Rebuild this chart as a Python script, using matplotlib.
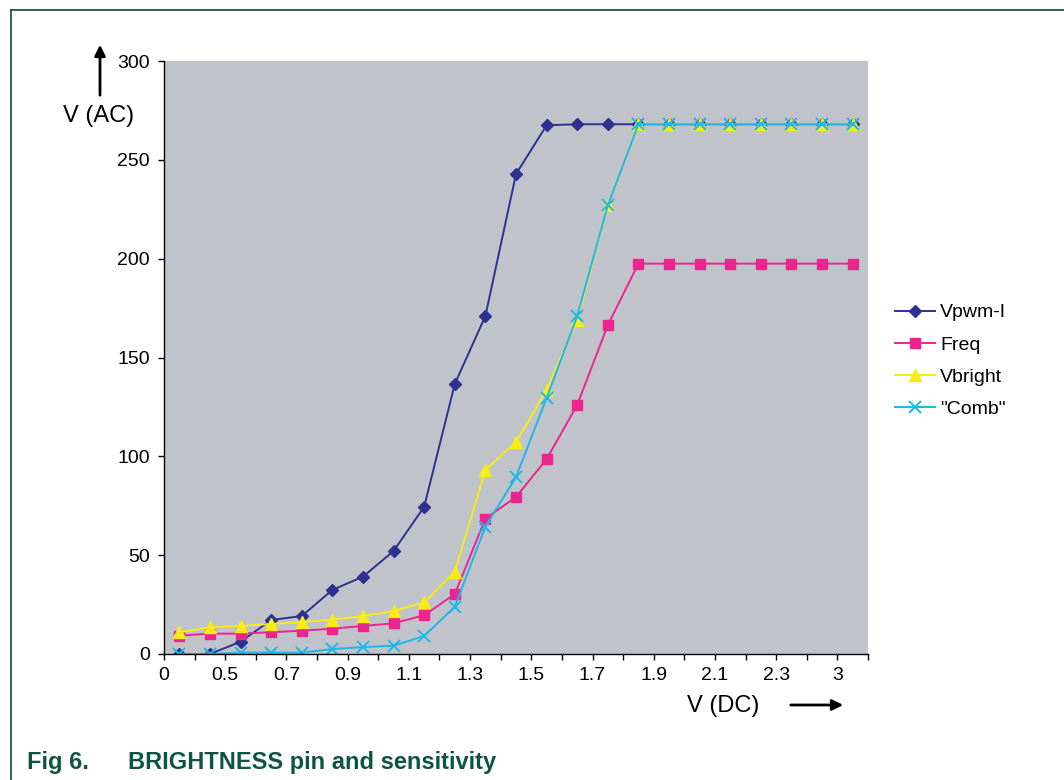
import matplotlib.pyplot as plt
from matplotlib.lines import Line2D

plt.rcParams['font.family'] = ['Liberation Sans', 'DejaVu Sans']

# x category labels (every second category boundary is labelled)
tick_labels = ['0', '0.5', '0.7', '0.9', '1.1', '1.3', '1.5', '1.7', '1.9', '2.1', '2.3', '3']
n_points = 23

vpwm = [0, 0, 6.2, 17.2, 19.2, 32.4, 39.1, 52.1, 74.5, 136.6, 171, 242.8, 267.5,
        268, 268, 268, 268, 268, 268, 268, 268, 268, 268]
freq = [9.3, 10.3, 10.3, 11, 11.8, 12.8, 14.2, 15.5, 19.6, 30.3, 68.5, 79.4, 98.6,
        126, 166.4, 197.5, 197.5, 197.5, 197.5, 197.5, 197.5, 197.5, 197.5]
vbright = [11, 13.5, 14.2, 15.2, 16.2, 17.3, 19.2, 21.7, 26.1, 41.6, 93, 107.2, 133.5,
           169, 227, 268, 268, 268, 268, 268, 268, 268, 268]
comb = [0, 0, 0.7, 0.7, 0.7, 2.5, 3.5, 4.2, 9.1, 23.9, 64.5, 89.5, 129.5,
        171, 227, 268, 268, 268, 268, 268, 268, 268, 268]

x = [i + 0.5 for i in range(n_points)]

fig = plt.figure(figsize=(10.64, 7.80), dpi=100)
ax = fig.add_axes([164 / 1064, 1 - 654 / 780, 704 / 1064, 593 / 780])
ax.set_facecolor('#c0c3ca')

ax.plot(x, vpwm, color='#2e3192', marker='D', markersize=6.5, lw=1.4, label='Vpwm-I')
ax.plot(x, freq, color='#ec258e', marker='s', markersize=6.5, lw=1.4, label='Freq')
ax.plot(x, vbright, color='#f7ec16', marker='^', markersize=8, lw=1.4, label='Vbright')
ax.plot(x, comb, color='#1cb8ea', marker='x', markersize=8, mew=1.4, lw=1.4, label='"Comb"')

ax.set_xlim(0, n_points)
ax.set_ylim(0, 300)
ax.set_xticks(range(0, n_points + 1))
ax.set_xticklabels([tick_labels[i // 2] if i % 2 == 0 else '' for i in range(n_points + 1)])
ax.set_yticks(range(0, 301, 50))
ax.tick_params(axis='both', labelsize=14, length=4, width=1, color='black')
ax.tick_params(axis='x', pad=5)
ax.tick_params(axis='y', pad=6)
for s in ['top', 'right']:
    ax.spines[s].set_visible(False)
for s in ['left', 'bottom']:
    ax.spines[s].set_linewidth(1)

ax.legend(loc='upper left', bbox_to_anchor=(1.013, 0.62), frameon=False, fontsize=14,
          handlelength=2.1, labelspacing=0.75, handletextpad=0.25)

# axis labels with arrows
fig.text(99 / 1064, 1 - 116 / 780, 'V (AC)', fontsize=17, ha='center', va='center')
fig.add_artist(plt.Annotation('', xy=(100 / 1064, 1 - 42 / 780), xytext=(100 / 1064, 1 - 98 / 780),
                              xycoords='figure fraction',
                              arrowprops=dict(arrowstyle='-|>', color='black', lw=2, mutation_scale=16)))
fig.text(723 / 1064, 1 - 706 / 780, 'V (DC)', fontsize=17, ha='center', va='center')
fig.add_artist(plt.Annotation('', xy=(846 / 1064, 1 - 705 / 780), xytext=(788 / 1064, 1 - 705 / 780),
                              xycoords='figure fraction',
                              arrowprops=dict(arrowstyle='-|>', color='black', lw=2, mutation_scale=16)))

# frame lines and caption
fig.add_artist(Line2D([11 / 1064, 1], [1 - 9.5 / 780, 1 - 9.5 / 780], color='#0d4d3b', lw=1.2))
fig.add_artist(Line2D([11 / 1064, 11 / 1064], [0, 1 - 9.5 / 780], color='#0d4d3b', lw=1.2))
fig.text(27 / 1064, 1 - 763 / 780, 'Fig 6.', fontsize=17, fontweight='bold', color='#0d5540',
         va='center')
fig.text(128 / 1064, 1 - 763 / 780, 'BRIGHTNESS pin and sensitivity', fontsize=17,
         fontweight='bold', color='#0d5540', va='center')

fig.savefig('out.png', dpi=100)
